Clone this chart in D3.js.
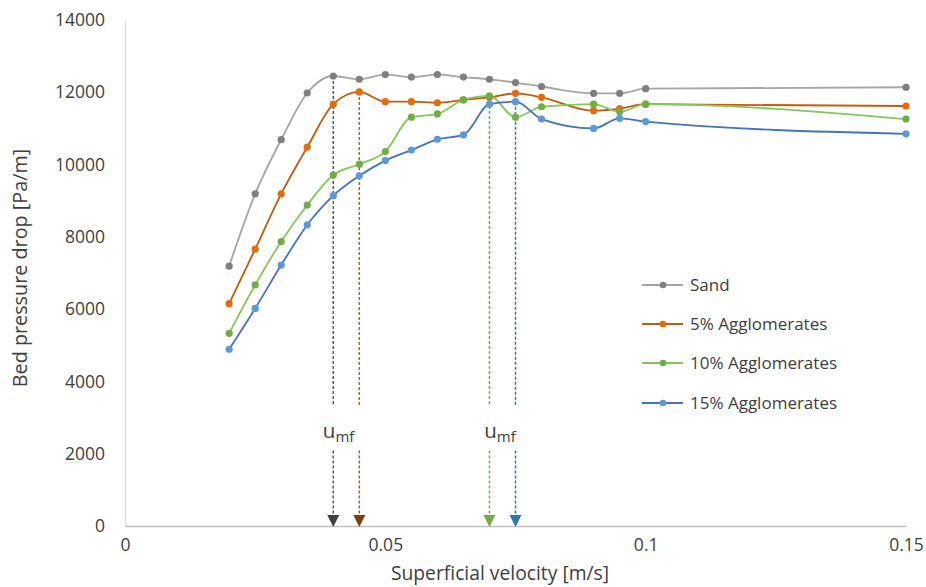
<!DOCTYPE html>
<html>
<head>
<meta charset="utf-8">
<script src="https://cdn.jsdelivr.net/npm/d3@7"></script>
<style>
  html, body { margin: 0; padding: 0; background: #ffffff; }
  svg { display: block; font-family: "Open Sans", Lato, sans-serif; }
</style>
</head>
<body>
<svg id="chart" width="926" height="587"></svg>
<script>
// ---- data ----
const velocities = [0.02, 0.025, 0.03, 0.035, 0.04, 0.045, 0.05, 0.055, 0.06, 0.065, 0.07, 0.075, 0.08, 0.09, 0.095, 0.1, 0.15];
const sand  = [7190, 9190, 10690, 11980, 12450, 12360, 12490, 12420, 12490, 12420, 12360, 12270, 12160, 11970, 11970, 12100, 12140];
const agg5  = [6150, 7660, 9190, 10480, 11670, 12010, 11740, 11740, 11710, 11790, 11860, 11970, 11860, 11490, 11550, 11670, 11620];
const agg10 = [5330, 6670, 7870, 8880, 9710, 10010, 10360, 11310, 11400, 11790, 11900, 11310, 11600, 11670, 11460, 11670, 11260];
const agg15 = [4890, 6020, 7220, 8330, 9140, 9690, 10110, 10400, 10700, 10820, 11670, 11740, 11260, 11000, 11280, 11190, 10850];
const seriesNames = ["Sand", "5% Agglomerates", "10% Agglomerates", "15% Agglomerates"];
const yTicks = [0, 2000, 4000, 6000, 8000, 10000, 12000, 14000];
const xTicks = [0, 0.05, 0.1, 0.15];
const xTickLabels = ["0", "0.05", "0.1", "0.15"];
const umfVelocities = [0.04, 0.045, 0.07, 0.075];   // per series
const umfLabelVelocities = [0.0405, 0.0715];
const umfGap = [3350, 2090];                          // dashed line broken between these values

// ---- styles ----
const lineColors   = ["#a5a5a5", "#c55a11", "#82c85a", "#4472c4"];
const markerColors = ["#7f7f7f", "#e46c0a", "#70ad47", "#5b9bd5"];
const arrowColors  = ["#595959", "#c55a11", "#70ad47", "#2e75b6"];
const headColors   = ["#404040", "#843c0c", "#70ad47", "#2e75b6"];

const svg = d3.select("#chart");
const x = d3.scaleLinear().domain([0, 0.15]).range([125, 906]);
const y = d3.scaleLinear().domain([0, 14000]).range([526, 20]);

const allSeries = [sand, agg5, agg10, agg15].map((vals, i) => ({
  name: seriesNames[i],
  points: velocities.map((v, j) => ({ v, p: vals[j] }))
}));

// axes
const yAxis = d3.axisLeft(y).tickValues(yTicks).tickSize(0).tickSizeOuter(0).tickPadding(20)
  .tickFormat(d3.format("d"));
const gy = svg.append("g").attr("transform", "translate(125,0)").call(yAxis);
gy.select(".domain").attr("stroke", "#d9d9d9").attr("stroke-width", 1.2);
gy.selectAll("text").attr("font-size", 17.5).attr("fill", "#404040").attr("font-family", "Open Sans");

const xAxis = d3.axisBottom(x).tickValues(xTicks).tickSize(0).tickSizeOuter(0).tickPadding(13)
  .tickFormat((d, i) => xTickLabels[i]);
const gx = svg.append("g").attr("transform", "translate(0,526)").call(xAxis);
gx.select(".domain").attr("stroke", "#bfbfbf").attr("stroke-width", 1.5);
gx.selectAll("text").attr("font-size", 17.5).attr("fill", "#404040").attr("font-family", "Open Sans");

// axis titles
svg.append("text").attr("x", 500).attr("y", 580).attr("text-anchor", "middle")
  .attr("font-size", 19.3).attr("fill", "#404040").text("Superficial velocity [m/s]");
svg.append("text").attr("transform", "translate(27,268) rotate(-90)").attr("text-anchor", "middle")
  .attr("font-size", 19.8).attr("fill", "#404040").text("Bed pressure drop [Pa/m]");

// umf dashed lines + arrows
allSeries.forEach((s, i) => {
  const v = umfVelocities[i];
  const pt = s.points.find(p => Math.abs(p.v - v) < 1e-9);
  const g = svg.append("g");
  const xx = x(v);
  g.append("line").attr("x1", xx).attr("x2", xx).attr("y1", y(pt.p)).attr("y2", y(umfGap[0]))
    .attr("stroke", arrowColors[i]).attr("stroke-width", 1.5).attr("stroke-dasharray", "3,2");
  g.append("line").attr("x1", xx).attr("x2", xx).attr("y1", y(umfGap[1])).attr("y2", y(0) - 10)
    .attr("stroke", arrowColors[i]).attr("stroke-width", 1.5).attr("stroke-dasharray", "3,2");
  const tipY = y(0) + 1;
  g.append("path").attr("d", `M${xx - 6},${tipY - 12} L${xx + 6},${tipY - 12} L${xx},${tipY} Z`)
    .attr("fill", headColors[i]);
});

// umf labels
umfLabelVelocities.forEach(v => {
  const t = svg.append("text").attr("x", x(v) - 13).attr("y", 438).attr("fill", "#404040").attr("font-size", 20.5);
  t.append("tspan").text("u");
  t.append("tspan").attr("font-size", 15).attr("dy", 4).text("mf");
});

// series lines
const line = d3.line().x(d => x(d.v)).y(d => y(d.p)).curve(d3.curveMonotoneX);
allSeries.forEach((s, i) => {
  svg.append("path").datum(s.points).attr("d", line).attr("fill", "none")
    .attr("stroke", lineColors[i]).attr("stroke-width", 1.8);
});
allSeries.forEach((s, i) => {
  svg.append("g").selectAll("circle").data(s.points).join("circle")
    .attr("cx", d => x(d.v)).attr("cy", d => y(d.p)).attr("r", 3.6)
    .attr("fill", markerColors[i]);
});

// legend
const legend = svg.append("g");
const legendY = [285, 324, 363, 403];
seriesNames.forEach((name, i) => {
  const gl = legend.append("g").attr("transform", `translate(0,${legendY[i]})`);
  gl.append("line").attr("x1", 642).attr("x2", 683).attr("y1", 0).attr("y2", 0)
    .attr("stroke", lineColors[i]).attr("stroke-width", 1.8);
  gl.append("circle").attr("cx", 663).attr("cy", 0).attr("r", 3.3).attr("fill", markerColors[i]);
  gl.append("text").attr("x", 690).attr("y", 0).attr("dy", "0.35em").attr("font-size", 17)
    .attr("fill", "#404040").text(name);
});
</script>
</body>
</html>
